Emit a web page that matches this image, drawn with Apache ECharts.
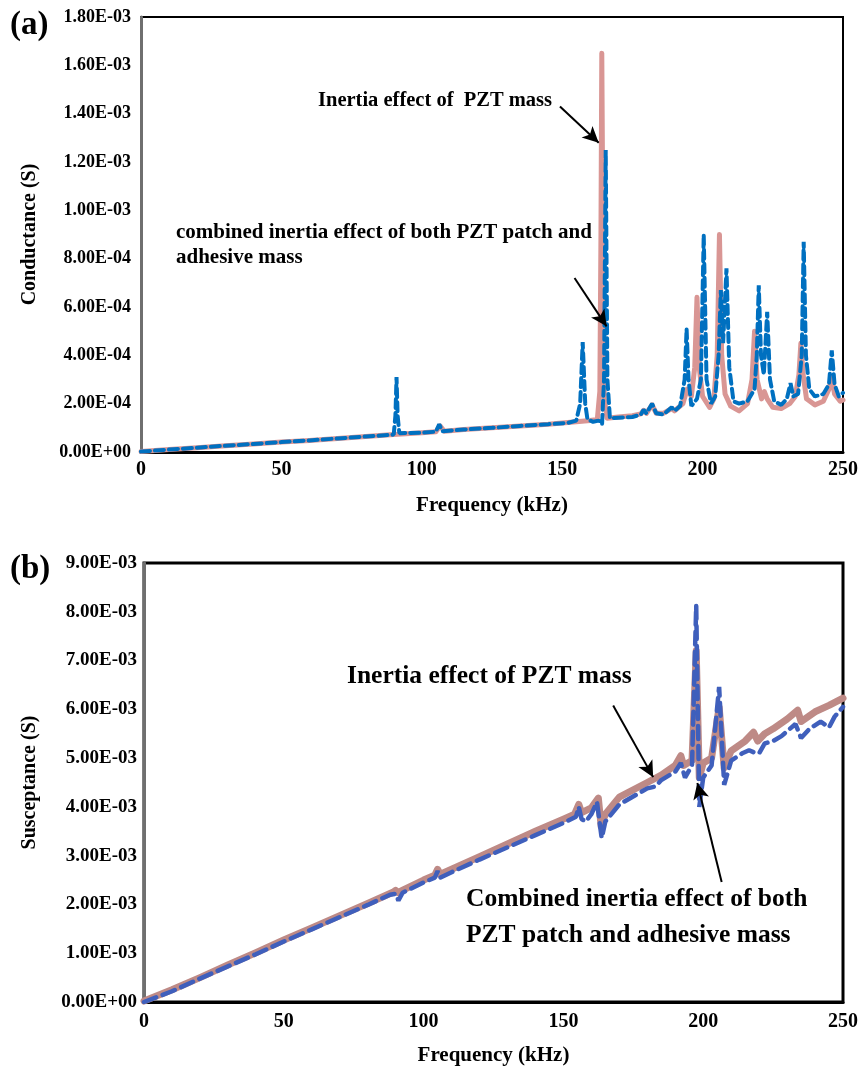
<!doctype html>
<html lang="en-US">

<head>
    <meta charset="utf-8" />
    <title>Conductance and susceptance signatures</title>
    <script type="text/javascript" src="https://cdn.jsdelivr.net/npm/echarts@6/dist/echarts.min.js"></script>
    <style>
        html, body { margin: 0; padding: 0; background: #fff; }
        #chart { width: 861px; height: 1068px; }
    </style>
</head>

<body>
    <div id="chart"></div>
</body>

<script type="text/javascript">
    // frequency in kHz, conductance in units of 1e-4 S
    const G_UNIT = 1e-4;
    const conductancePzt = [
        [0, 0.02], [10, 0.1], [20, 0.18], [30, 0.26], [40, 0.33], [50, 0.41], [60, 0.48], [70, 0.56],
        [80, 0.64], [90, 0.72], [100, 0.8], [105, 0.84], [106.5, 1.08], [108, 0.86], [115, 0.93],
        [125, 1.0], [135, 1.08], [145, 1.15], [150, 1.2], [155, 1.25], [160, 1.3], [162.5, 1.35],
        [163.4, 2.5], [163.8, 9], [164.1, 16.5], [164.5, 9], [165, 2.2], [166, 1.4], [170, 1.45],
        [175, 1.5], [178, 1.58], [179, 1.72], [180, 1.6], [182, 1.95], [183.5, 1.6], [186, 1.6],
        [189, 1.8], [190, 1.7], [193, 2.0], [194.5, 2.6], [196, 2.3], [197.2, 3.5], [198, 6.4],
        [198.8, 3.5], [200, 2.3], [202.5, 1.85], [204, 2.2], [205.2, 4], [206, 9.0], [206.8, 4],
        [208, 2.4], [210, 1.9], [213, 1.7], [216, 2.0], [217.6, 3.0], [218.5, 5.0], [219.4, 3.0],
        [221, 2.2], [222, 2.5], [223, 2.2], [225, 1.85], [228, 1.8], [231, 2.0], [233, 2.3],
        [234.3, 3.2], [235, 4.5], [235.8, 3.2], [237, 2.2], [240, 1.95], [243, 2.1], [245, 2.6],
        [246, 3.1], [247, 2.4], [249, 2.1], [250, 2.15]
    ];
    const conductanceCombined = [
        [0, 0.02], [10, 0.1], [20, 0.18], [30, 0.26], [40, 0.33], [50, 0.41], [60, 0.48], [70, 0.56],
        [80, 0.64], [90, 0.72], [90.6, 1.5], [91, 3.1], [91.4, 1.5], [92, 0.78], [100, 0.8],
        [105, 0.84], [106.2, 1.15], [107.3, 0.86], [115, 0.93], [125, 1.0], [135, 1.08], [145, 1.15],
        [152, 1.2], [155, 1.3], [156.4, 2.0], [157.3, 4.55], [158.2, 2.0], [159, 1.35], [161, 1.25],
        [163, 1.3], [164.2, 1.15], [164.9, 3], [165.5, 12.5], [166.1, 3], [167, 1.4], [170, 1.42],
        [175, 1.45], [178, 1.55], [179, 1.75], [180, 1.6], [182, 2.0], [183.5, 1.6], [186, 1.55],
        [189, 1.85], [190, 1.7], [192, 1.9], [193.6, 3], [194.3, 5.1], [195, 3], [196, 1.9],
        [198, 2.2], [199.4, 3], [200.4, 9.0], [201.4, 3], [203, 2.0], [204.5, 2.3], [205.7, 4],
        [206.5, 6.7], [207.3, 4.5], [208.5, 7.6], [209.5, 3.5], [211, 2.1], [213, 2.0], [216, 2.1],
        [218.5, 2.6], [219.3, 4], [220, 6.9], [220.8, 4], [221.8, 3.2], [223, 5.8], [224, 3],
        [225.5, 2.1], [228, 1.95], [230, 2.2], [231.3, 2.85], [232.3, 2.3], [234, 2.4], [235.3, 4],
        [236, 8.7], [236.8, 4], [238, 2.6], [240, 2.3], [243, 2.4], [245, 2.8], [246, 4.2],
        [247, 2.8], [248.5, 2.3], [250, 2.45]
    ];

    // frequency in kHz, susceptance in units of 1e-3 S
    const B_UNIT = 1e-3;
    const susceptancePzt = [
        [0, 0.02], [10, 0.25], [20, 0.5], [30, 0.76], [40, 1.01], [50, 1.27], [60, 1.52], [70, 1.77],
        [80, 2.02], [89, 2.25], [90, 2.29], [91, 2.24], [92, 2.28], [100, 2.5], [104, 2.6],
        [105, 2.72], [106, 2.62], [110, 2.72], [120, 2.98], [130, 3.24], [140, 3.5], [150, 3.75],
        [154, 3.85], [155.5, 4.05], [156.5, 3.88], [160, 3.98], [162.5, 4.18], [163.5, 3.6],
        [165, 3.85], [170, 4.2], [180, 4.5], [185, 4.65], [190, 4.85], [192, 5.05], [193, 4.85],
        [196, 4.95], [197.5, 7.2], [198.6, 4.6], [200, 4.9], [203, 5.0], [205.7, 6.05], [207.5, 4.8],
        [210, 5.15], [215, 5.35], [218, 5.53], [219.5, 5.35], [222, 5.5], [225, 5.6], [230, 5.8],
        [233.8, 5.98], [235, 5.75], [240, 5.95], [245, 6.08], [250, 6.23]
    ];
    const susceptanceCombined = [
        [0, 0.0], [10, 0.22], [20, 0.48], [30, 0.73], [40, 0.98], [50, 1.24], [60, 1.49], [70, 1.74],
        [80, 1.99], [88, 2.2], [90, 2.22], [91, 2.08], [92.5, 2.24], [100, 2.45], [104, 2.55],
        [105, 2.68], [106, 2.55], [110, 2.66], [120, 2.92], [130, 3.17], [140, 3.42], [150, 3.67],
        [154.5, 3.8], [155.5, 4.0], [156.5, 3.75], [158, 3.7], [160, 3.85], [162, 4.1],
        [163.7, 3.36], [165, 3.7], [170, 4.05], [180, 4.38], [183, 4.42], [185, 4.55], [190, 4.72],
        [192, 4.9], [193.5, 4.6], [196, 4.85], [197.5, 8.13], [198.6, 4.0], [200, 4.6], [203, 4.85],
        [205.7, 6.46], [207.5, 4.45], [210, 4.95], [214, 5.1], [216.4, 5.16], [218, 5.12],
        [220, 5.1], [222, 5.3], [225, 5.35], [228, 5.45], [230, 5.55], [233, 5.7], [235, 5.41],
        [238, 5.6], [242, 5.75], [245, 5.63], [247, 5.85], [250, 6.05]
    ];

    const freqTicks = { min: 0, max: 250, interval: 50 };
    const condTicks = { min: 0, max: 1.8e-3, interval: 2e-4 };
    const suscTicks = { min: 0, max: 9e-3, interval: 1e-3 };

    // arrows: [from, to] in data coords
    const arrowsTop = [
        [[149.2, 14.3e-4], [163.0, 12.8e-4]],
        [[154.4, 7.2e-4], [165.8, 5.2e-4]]
    ];
    const arrowsBottom = [
        [[167.8, 6.08e-3], [182.1, 4.61e-3]],
        [[206.6, 2.46e-3], [197.9, 4.49e-3]]
    ];

    const FONT = "'Liberation Serif', 'Times New Roman', serif";

    let sci = function (v) {
        if (Math.abs(v) < 1e-12) return '0.00E+00';
        let e = Math.floor(Math.log10(Math.abs(v)) + 1e-9);
        let m = v / Math.pow(10, e);
        if (m >= 9.995) { m /= 10; e++; }
        return m.toFixed(2) + 'E' + (e < 0 ? '-' : '+') + String(Math.abs(e)).padStart(2, '0');
    };

    let scale = (arr, unit) => arr.map(p => [p[0], p[1] * unit]);

    let arrowLine = function (list) {
        return {
            silent: true,
            symbol: ['none', 'arrow'],
            symbolSize: [12, 16],
            label: { show: false },
            lineStyle: { color: '#000', width: 2, type: 'solid' },
            data: list.map(a => [{ coord: a[0] }, { coord: a[1] }])
        };
    };

    let xAxisOf = function (gridIndex, margin) {
        return {
            type: 'value', gridIndex: gridIndex,
            min: freqTicks.min, max: freqTicks.max, interval: freqTicks.interval,
            name: 'Frequency (kHz)', nameLocation: 'middle', nameGap: 43,
            nameTextStyle: { fontFamily: FONT, fontWeight: 'bold', fontSize: 21, color: '#000' },
            axisLine: { lineStyle: { color: '#000', width: 3 } },
            axisTick: { show: false },
            splitLine: { show: false },
            axisLabel: { fontFamily: FONT, fontWeight: 'bold', fontSize: 20, color: '#000', margin: margin }
        };
    };

    let yAxisOf = function (gridIndex, ticks, name, gap, size, margin) {
        return {
            type: 'value', gridIndex: gridIndex,
            min: ticks.min, max: ticks.max, interval: ticks.interval,
            name: name, nameLocation: 'middle', nameGap: gap,
            nameTextStyle: { fontFamily: FONT, fontWeight: 'bold', fontSize: 20, color: '#000' },
            axisLine: { show: true, lineStyle: { color: '#6f6f6f', width: 3 } },
            axisTick: { show: false },
            splitLine: { show: false },
            axisLabel: { fontFamily: FONT, fontWeight: 'bold', fontSize: size, color: '#000', margin: margin, formatter: sci }
        };
    };

    let txt = function (x, y, text, size) {
        return {
            type: 'text', x: x, y: y,
            style: { text: text, fontFamily: FONT, fontWeight: 'bold', fontSize: size, fill: '#000', verticalAlign: 'middle' }
        };
    };

    let option = {
        animation: false,
        backgroundColor: '#fff',
        grid: [
            { left: 141, right: 17, top: 17, height: 435, show: true, borderColor: '#000', borderWidth: 2 },
            { left: 144, right: 13, top: 563, height: 439, show: true, borderColor: '#000', borderWidth: 3 }
        ],
        xAxis: [xAxisOf(0, 8), xAxisOf(1, 10)],
        yAxis: [
            yAxisOf(0, condTicks, 'Conductance (S)', 101, 18, 10),
            yAxisOf(1, suscTicks, 'Susceptance (S)', 104, 19, 7)
        ],
        series: [
            {
                name: 'Inertia effect of PZT mass', type: 'line', xAxisIndex: 0, yAxisIndex: 0,
                data: scale(conductancePzt, G_UNIT), showSymbol: false,
                lineStyle: { color: '#d99694', width: 5, join: 'round', cap: 'round' }
            },
            {
                name: 'Combined inertia effect', type: 'line', xAxisIndex: 0, yAxisIndex: 0,
                data: scale(conductanceCombined, G_UNIT), showSymbol: false,
                lineStyle: { color: '#0070c0', width: 4, type: [9, 5], cap: 'round' },
                markLine: arrowLine(arrowsTop)
            },
            {
                name: 'Inertia effect of PZT mass', type: 'line', xAxisIndex: 1, yAxisIndex: 1,
                data: scale(susceptancePzt, B_UNIT), showSymbol: false,
                lineStyle: { color: '#be8a86', width: 7, join: 'round', cap: 'round' }
            },
            {
                name: 'Combined inertia effect', type: 'line', xAxisIndex: 1, yAxisIndex: 1,
                data: scale(susceptanceCombined, B_UNIT), showSymbol: false,
                lineStyle: { color: '#3f5fbc', width: 4.5, type: [13, 7], cap: 'round' },
                markLine: arrowLine(arrowsBottom)
            }
        ],
        graphic: [
            txt(10, 25, '(a)', 33),
            txt(10, 569, '(b)', 33),
            txt(318, 101, 'Inertia effect of  PZT mass', 20.5),
            txt(176, 233, 'combined inertia effect of both PZT patch and', 21),
            txt(176, 258, 'adhesive mass', 21),
            txt(347, 676, 'Inertia effect of PZT mass', 25.5),
            txt(466, 899, 'Combined inertia effect of both', 25.5),
            txt(466, 935, 'PZT patch and adhesive mass', 25.5)
        ]
    };

    let myChart = echarts.init(document.getElementById('chart'));
    myChart.setOption(option);
</script>

</html>
